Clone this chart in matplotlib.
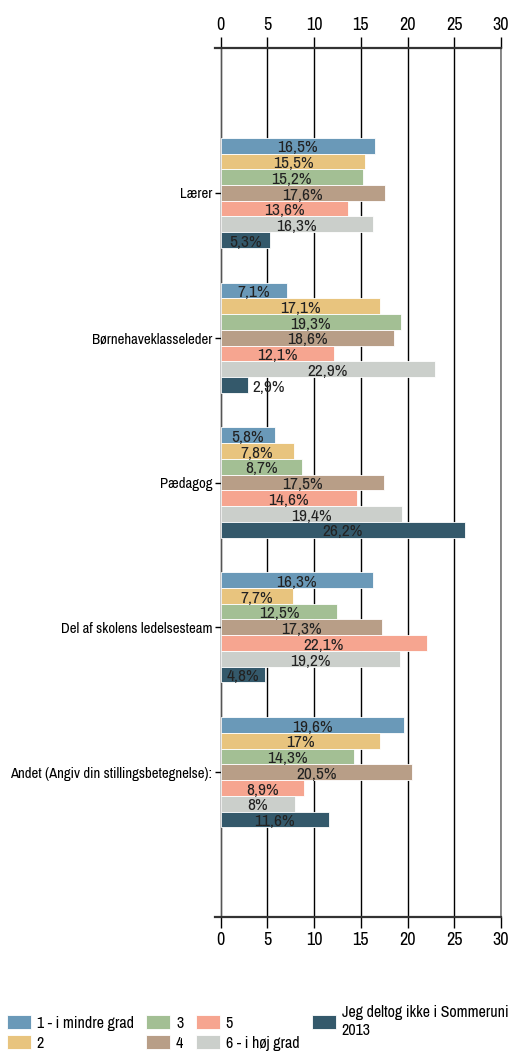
import matplotlib
matplotlib.use("Agg")
import matplotlib.pyplot as plt
import numpy as np

plt.rcParams['font.family'] = ['Liberation Sans Narrow', 'Archivo Narrow', 'DejaVu Sans']

# data
categories = ['Lærer', 'Børnehaveklasseleder', 'Pædagog',
              'Del af skolens ledelsesteam', 'Andet (Angiv din stillingsbetegnelse):']
series = ['1 - i mindre grad', '2', '3', '4', '5', '6 - i høj grad',
          'Jeg deltog ikke i Sommeruni\n2013']
s1 = [16.5, 7.1, 5.8, 16.3, 19.6]
s2 = [15.5, 17.1, 7.8, 7.7, 17.0]
s3 = [15.2, 19.3, 8.7, 12.5, 14.3]
s4 = [17.6, 18.6, 17.5, 17.3, 20.5]
s5 = [13.6, 12.1, 14.6, 22.1, 8.9]
s6 = [16.3, 22.9, 19.4, 19.2, 8.0]
s7 = [5.3, 2.9, 26.2, 4.8, 11.6]
values = [s1, s2, s3, s4, s5, s6, s7]

colors = ['#6a99b8', '#e8c47e', '#a3bf94', '#b89e87', '#f6a590', '#cbcfcb', '#34596b']


def fmt(v):
    s = f"{v:g}".replace('.', ',')
    return s + '%'


fig = plt.figure(figsize=(5.09, 10.56), dpi=100)
ax = fig.add_axes([0.4224, 0.1316, 0.9843 - 0.4224, 0.9545 - 0.1316])

h = 0.1087
y = np.arange(len(categories))
for j, vals in enumerate(values):
    pos = y + (j - 3) * h
    ax.barh(pos, vals, height=h, color=colors[j], edgecolor='white',
            linewidth=0.6, label=series[j], zorder=3)
    for p, v in zip(pos, vals):
        if v < 4:
            ax.text(v + 0.55, p + 0.015, fmt(v), ha='left', va='center',
                    fontsize=12.5, color='#222222', zorder=4)
        else:
            ax.text(v / 2, p + 0.015, fmt(v), ha='center', va='center',
                    fontsize=12.5, color='#222222', zorder=4)

ax.set_xlim(-0.6, 30)
ax.set_ylim(5, -1)
ax.set_xticks([0, 5, 10, 15, 20, 25, 30])
ax.set_yticks(y)
ax.set_yticklabels(categories)

ax.grid(axis='x', color='black', linewidth=1)
ax.set_axisbelow(True)

ax.spines['left'].set_position(('data', 0))
for sp in ['top', 'bottom']:
    ax.spines[sp].set_linewidth(1.6)
    ax.spines[sp].set_color('#333333')
ax.spines['right'].set_color('#777777')
ax.spines['right'].set_linewidth(1.2)
ax.spines['left'].set_color('#555555')

ax.tick_params(axis='x', top=True, labeltop=True, bottom=True, labelbottom=True,
               direction='out', length=8, width=1, labelsize=13, pad=3)
ax.tick_params(axis='y', direction='out', length=4, width=1, pad=2, labelsize=10.6)

fig.legend(loc='upper left', bbox_to_anchor=(0.014, 0.048), ncol=4,
           frameon=False, fontsize=11.5, handlelength=1.5, handleheight=0.95,
           handletextpad=0.35, columnspacing=0.8, labelspacing=0.3,
           borderaxespad=0, borderpad=0)

fig.savefig('out.png', dpi=100)
